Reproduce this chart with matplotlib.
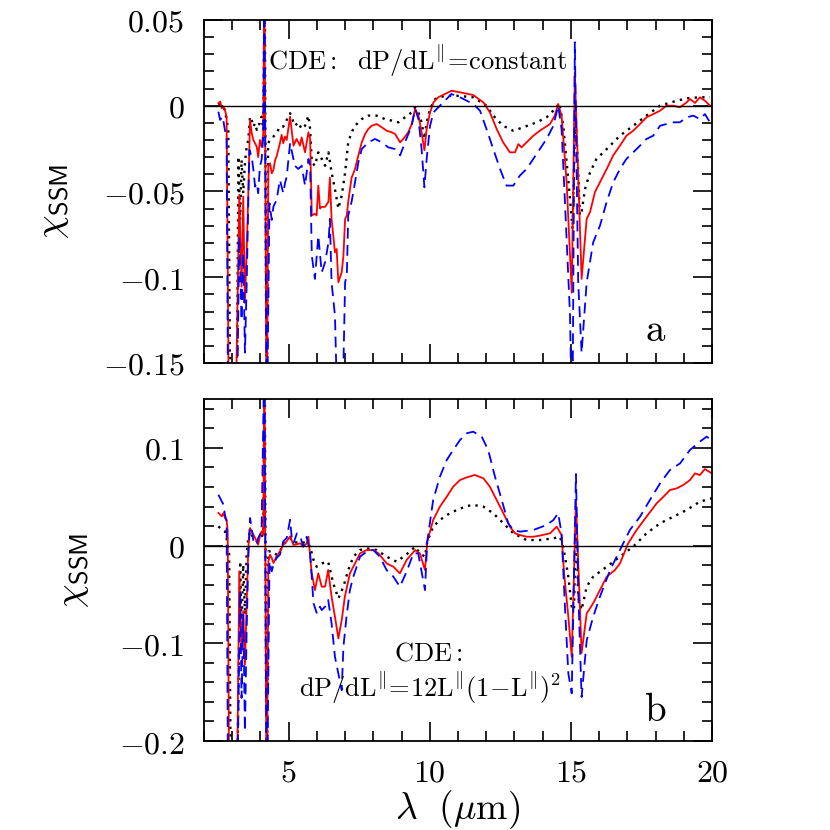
import matplotlib
matplotlib.use('Agg')
import matplotlib.pyplot as plt
from matplotlib.ticker import MultipleLocator, FuncFormatter

plt.rcParams['mathtext.fontset'] = 'cm'
plt.rcParams['font.family'] = 'serif'

# ---------------- panel a: dP/dL = constant ----------------
xa_red = [2.51, 2.57, 2.63, 2.69, 2.74, 2.80, 2.89, 3.0, 3.1, 3.25, 3.33, 3.39, 3.45, 3.51, 3.57,
          3.63, 3.69, 3.75, 3.81, 3.87, 3.92, 3.98, 4.04, 4.10, 4.14, 4.22, 4.28, 4.34, 4.40, 4.46,
          4.52, 4.57, 4.63, 4.69, 4.75, 4.81, 4.87, 4.93, 5.05, 5.17, 5.28, 5.40, 5.46, 5.58, 5.70,
          5.76, 5.82, 5.93, 5.99, 6.05, 6.11, 6.17, 6.29, 6.41, 6.46, 6.52, 6.64, 6.70, 6.76, 6.88,
          6.94, 7.00, 7.06, 7.11, 7.23, 7.35, 7.47, 7.59, 7.71, 7.82, 7.94, 8.12, 8.30, 8.47, 8.65,
          8.77, 8.95, 9.06, 9.24, 9.36, 9.48, 9.60, 9.71, 9.81, 9.89, 10.01, 10.13, 10.30, 10.77,
          11.07, 11.54, 11.90, 12.13, 12.37, 12.60, 12.84, 13.02, 13.14, 13.25, 13.43, 13.67, 13.90,
          14.26, 14.43, 14.55, 14.67, 14.85, 15.03, 15.14, 15.38, 15.56, 15.68, 15.85, 16.03, 16.27,
          16.50, 16.74, 16.97, 17.21, 17.45, 17.68, 17.92, 18.16, 18.39, 18.63, 18.86, 19.10, 19.22,
          19.40, 19.57, 19.75, 19.93]
ya_red = [0.0014, 0.0024, -0.0015, -0.0005, -0.0025, -0.0064, -0.2, -0.2, -0.2, -0.052, -0.1055,
          -0.053, -0.115, -0.086, -0.051, -0.0083, -0.016, -0.020, -0.022, -0.024, -0.030, -0.020,
          -0.024, -0.016, 0.08, -0.2, -0.0355, -0.0336, -0.0394, -0.0375, -0.0316, -0.0297, -0.0258,
          -0.0219, -0.017, -0.0219, -0.018, -0.020, -0.0064, -0.0233, -0.0194, -0.0233, -0.0185,
          -0.0272, -0.0155, -0.0194, -0.064, -0.063, -0.064, -0.0466, -0.060, -0.059, -0.059, -0.056,
          -0.042, -0.066, -0.0855, -0.0836, -0.103, -0.097, -0.0875, -0.066, -0.064, -0.056, -0.042,
          -0.037, -0.029, -0.0214, -0.0165, -0.0136, -0.0117, -0.0107, -0.0126, -0.0146, -0.0155,
          -0.0165, -0.0214, -0.0194, -0.0155, -0.0107, -0.0019, -0.0058, -0.0155, -0.026, -0.0136,
          -0.0039, 0.0019, 0.0049, 0.0087, 0.0078, 0.0062, 0.0019, -0.0039, -0.0136, -0.0214, -0.0272,
          -0.0272, -0.0224, -0.0243, -0.0214, -0.0175, -0.0146, -0.0107, -0.0058, 0.001, -0.0058,
          -0.0447, -0.109, 0.0194, -0.101, -0.066, -0.062, -0.0505, -0.0447, -0.0369, -0.029, -0.0233,
          -0.0175, -0.0146, -0.0107, -0.0068, -0.0049, -0.0029, 0.0, 0.0, -0.001, 0.0019, 0.0039,
          0.0016, 0.0049, 0.0029, 0.0]

xa_blk = [2.51, 2.63, 2.74, 2.80, 2.86, 2.94, 3.05, 3.15, 3.22, 3.28, 3.33, 3.39, 3.45, 3.51, 3.57,
          3.63, 3.69, 3.75, 3.81, 3.87, 3.92, 3.98, 4.04, 4.10, 4.15, 4.22, 4.27, 4.34, 4.46, 4.57,
          4.69, 4.81, 4.93, 5.05, 5.22, 5.34, 5.46, 5.58, 5.70, 5.76, 5.82, 5.93, 6.05, 6.17, 6.29,
          6.41, 6.52, 6.64, 6.76, 6.88, 7.00, 7.11, 7.23, 7.35, 7.59, 7.82, 8.12, 8.41, 8.65, 8.89,
          9.12, 9.36, 9.48, 9.60, 9.71, 9.81, 9.89, 10.01, 10.19, 10.54, 10.95, 11.54, 12.01, 12.25,
          12.60, 12.96, 13.31, 13.79, 14.14, 14.49, 14.59, 14.73, 14.85, 14.97, 15.06, 15.16, 15.26,
          15.32, 15.38, 15.50, 15.68, 15.91, 16.27, 16.74, 17.21, 17.68, 18.16, 18.63, 19.10, 19.57,
          19.93]
ya_blk = [0.0014, 0.0004, -0.0025, -0.0083, -0.014, -0.2, -0.2, -0.2, -0.0297, -0.0666, -0.0316,
          -0.051, -0.0336, -0.0239, -0.020, -0.0064, -0.0083, -0.0122, -0.0103, -0.0141, -0.0112,
          -0.0103, -0.0064, -0.0141, 0.08, -0.2, -0.0219, -0.020, -0.018, -0.0161, -0.0122, -0.0122,
          -0.0083, -0.0044, -0.0117, -0.0097, -0.0136, -0.0117, -0.0058, -0.0136, -0.033, -0.035,
          -0.0272, -0.031, -0.035, -0.0272, -0.0389, -0.0486, -0.060, -0.0525, -0.0389, -0.0214,
          -0.0155, -0.0117, -0.0078, -0.0058, -0.0058, -0.0078, -0.0087, -0.0097, -0.0068, -0.0039,
          -0.001, -0.0039, -0.0097, -0.0194, -0.0097, -0.0019, 0.0039, 0.0058, 0.0058, 0.0049, 0.0,
          -0.0058, -0.0117, -0.0146, -0.0126, -0.0097, -0.0068, -0.001, 0.0016, -0.0117, -0.033,
          -0.0544, -0.072, -0.0019, -0.0389, -0.064, -0.062, -0.0486, -0.0389, -0.031, -0.0253,
          -0.0175, -0.0117, -0.0058, 0.0, 0.0023, 0.0043, 0.0049, 0.0049]

xa_blu = [2.51, 2.57, 2.66, 2.74, 2.80, 2.86, 3.0, 3.15, 3.25, 3.33, 3.39, 3.45, 3.51, 3.57, 3.61,
          3.69, 3.75, 3.81, 3.87, 3.92, 3.98, 4.04, 4.10, 4.14, 4.22, 4.32, 4.40, 4.46, 4.57, 4.69,
          4.75, 4.81, 4.87, 4.93, 5.05, 5.22, 5.34, 5.46, 5.58, 5.70, 5.76, 5.82, 5.93, 6.05, 6.17,
          6.29, 6.41, 6.46, 6.52, 6.64, 6.76, 6.88, 7.00, 7.06, 7.11, 7.23, 7.35, 7.47, 7.59, 7.82,
          8.06, 8.30, 8.53, 8.77, 8.95, 9.12, 9.36, 9.48, 9.60, 9.71, 9.81, 9.89, 10.01, 10.13, 10.30,
          10.77, 11.07, 11.54, 11.78, 12.01, 12.25, 12.49, 12.72, 12.96, 13.19, 13.43, 13.67, 13.90,
          14.14, 14.38, 14.55, 14.67, 14.79, 14.97, 15.05, 15.14, 15.26, 15.38, 15.56, 15.79, 16.03,
          16.27, 16.50, 16.74, 16.97, 17.21, 17.45, 17.68, 17.92, 18.16, 18.39, 18.63, 18.86, 19.10,
          19.34, 19.57, 19.75, 19.93]
ya_blu = [-0.0035, -0.0083, -0.0064, -0.0141, -0.020, -0.2, -0.2, -0.2, -0.0763, -0.125, -0.086,
          -0.144, -0.1055, -0.055, -0.0258, -0.0297, -0.0375, -0.0472, -0.0452, -0.051, -0.0355,
          -0.0316, -0.018, 0.08, -0.2, -0.0569, -0.0666, -0.0588, -0.055, -0.0433, -0.0472, -0.051,
          -0.0452, -0.0414, -0.0219, -0.035, -0.0369, -0.035, -0.0466, -0.0311, -0.035, -0.0875,
          -0.101, -0.0758, -0.0972, -0.0914, -0.0797, -0.066, -0.103, -0.1224, -0.2, -0.2, -0.103,
          -0.099, -0.064, -0.056, -0.0447, -0.033, -0.0253, -0.0214, -0.0194, -0.0214, -0.0243,
          -0.0253, -0.029, -0.0214, -0.0117, -0.0019, -0.0078, -0.0253, -0.0476, -0.031, -0.0117,
          -0.0039, -0.001, 0.0068, 0.0049, 0.001, -0.0029, -0.0136, -0.0253, -0.0369, -0.0466,
          -0.0466, -0.0408, -0.0369, -0.031, -0.0253, -0.0194, -0.0117, 0.0, -0.0136, -0.056,
          -0.1224, -0.2, 0.037, -0.103, -0.144, -0.103, -0.0797, -0.070, -0.056, -0.0447, -0.0369,
          -0.031, -0.0272, -0.0233, -0.0194, -0.0175, -0.0117, -0.0107, -0.0097, -0.0097, -0.0068,
          -0.0058, -0.0078, -0.0049, -0.0097]

# ---------------- panel b: dP/dL = 12L(1-L)^2 ----------------
xb_red = [2.51, 2.57, 2.63, 2.69, 2.74, 2.80, 2.84, 2.90, 3.0, 3.15, 3.25, 3.33, 3.39, 3.45, 3.51,
          3.57, 3.63, 3.69, 3.75, 3.87, 3.92, 3.98, 4.04, 4.10, 4.14, 4.22, 4.28, 4.34, 4.40, 4.46,
          4.57, 4.69, 4.81, 4.93, 5.05, 5.17, 5.41, 5.52, 5.64, 5.70, 5.81, 5.93, 6.05, 6.17, 6.29,
          6.40, 6.52, 6.64, 6.76, 6.88, 6.99, 7.17, 7.35, 7.53, 7.76, 8.00, 8.18, 8.47, 8.71, 8.94,
          9.18, 9.48, 9.65, 9.83, 9.91, 10.12, 10.36, 10.60, 10.83, 11.07, 11.31, 11.60, 11.90, 12.13,
          12.37, 12.61, 12.84, 13.02, 13.20, 13.43, 13.67, 13.90, 14.26, 14.50, 14.67, 14.76, 14.91,
          15.03, 15.18, 15.38, 15.56, 15.79, 16.03, 16.27, 16.56, 16.74, 17.03, 17.33, 17.68, 18.04,
          18.28, 18.51, 18.75, 18.98, 19.22, 19.40, 19.57, 19.75, 19.99]
yb_red = [0.0334, 0.0317, 0.030, 0.0334, 0.0283, 0.0265, 0.0146, -0.3, -0.3, -0.3, -0.0263, -0.108,
          -0.067, -0.122, -0.0605, -0.0025, 0.018, 0.0146, 0.0112, 0.0044, 0.001, 0.0095, 0.0146,
          0.0112, 0.2, -0.3, -0.016, -0.0093, -0.0127, -0.0178, -0.011, -0.0059, 0.001, 0.0044,
          0.0095, 0.0006, 0.0023, -0.001, 0.0023, 0.009, -0.0267, -0.0455, -0.0284, -0.042, -0.042,
          -0.025, -0.0523, -0.0728, -0.095, -0.0762, -0.0523, -0.0284, -0.0182, -0.0079, -0.0045,
          -0.0045, -0.0079, -0.0182, -0.0216, -0.0284, -0.0147, -0.0045, -0.0079, -0.025, 0.004,
          0.0262, 0.0399, 0.050, 0.0603, 0.0671, 0.0699, 0.0723, 0.0689, 0.0603, 0.0467, 0.033,
          0.0194, 0.0126, 0.0108, 0.0091, 0.0091, 0.0102, 0.0126, 0.0194, 0.0108, -0.0284, -0.0728,
          -0.1137, 0.0467, -0.110, -0.0695, -0.059, -0.0455, -0.0318, -0.025, -0.0182, 0.0023, 0.016,
          0.0296, 0.0433, 0.050, 0.0569, 0.0586, 0.062, 0.0671, 0.074, 0.0722, 0.0784, 0.074]

xb_blk = [2.51, 2.63, 2.74, 2.80, 2.89, 2.96, 3.05, 3.15, 3.28, 3.33, 3.39, 3.45, 3.51, 3.57, 3.63,
          3.75, 3.87, 3.98, 4.10, 4.15, 4.22, 4.28, 4.40, 4.57, 4.69, 4.81, 5.05, 5.17, 5.41, 5.64,
          5.76, 5.88, 5.99, 6.17, 6.40, 6.58, 6.76, 6.94, 7.11, 7.29, 7.53, 7.76, 8.12, 8.47, 8.83,
          9.06, 9.30, 9.48, 9.65, 9.83, 9.91, 10.12, 10.36, 10.60, 10.95, 11.31, 11.54, 11.90, 12.25,
          12.61, 12.96, 13.43, 13.90, 14.38, 14.61, 14.73, 14.91, 15.03, 15.11, 15.18, 15.26, 15.38,
          15.56, 15.79, 16.27, 16.74, 17.21, 17.68, 18.16, 18.63, 19.10, 19.57, 19.99]
yb_blk = [0.0197, 0.0163, 0.0146, 0.0078, -0.009, -0.3, -0.3, -0.3, -0.016, -0.0878, -0.0195,
          -0.0707, -0.0093, 0.0078, 0.0146, 0.0078, 0.0044, 0.0078, 0.0112, 0.2, -0.3, -0.0059,
          -0.0059, -0.0093, -0.0059, 0.001, 0.0078, 0.004, 0.0023, 0.004, -0.001, -0.0147, -0.0216,
          -0.0182, -0.0165, -0.0386, -0.054, -0.042, -0.025, -0.0113, -0.0045, -0.0028, -0.0045,
          -0.0113, -0.0165, -0.0113, -0.0062, -0.001, -0.0079, -0.0113, 0.004, 0.0194, 0.0262,
          0.0313, 0.0364, 0.0405, 0.0416, 0.0399, 0.033, 0.0228, 0.0126, 0.0057, 0.0057, 0.0074,
          0.0091, -0.001, -0.0318, -0.0625, -0.0659, 0.0296, -0.0523, -0.0659, -0.042, -0.0318,
          -0.0216, -0.0113, -0.001, 0.0126, 0.0228, 0.0296, 0.0364, 0.045, 0.0484]

xb_blu = [2.51, 2.57, 2.69, 2.74, 2.80, 2.86, 3.0, 3.15, 3.28, 3.33, 3.39, 3.45, 3.51, 3.57, 3.63,
          3.69, 3.75, 3.87, 3.92, 3.98, 4.04, 4.14, 4.22, 4.32, 4.40, 4.46, 4.57, 4.69, 4.81, 4.93,
          5.05, 5.11, 5.17, 5.29, 5.41, 5.52, 5.64, 5.76, 5.88, 6.00, 6.11, 6.17, 6.29, 6.40, 6.52,
          6.64, 6.76, 6.88, 6.94, 7.05, 7.17, 7.29, 7.53, 7.76, 8.00, 8.23, 8.47, 8.71, 8.94, 9.18,
          9.42, 9.59, 9.83, 9.91, 10.12, 10.36, 10.60, 10.83, 11.07, 11.31, 11.54, 11.84, 12.07,
          12.31, 12.55, 12.78, 12.96, 13.20, 13.67, 14.14, 14.38, 14.55, 14.67, 14.79, 14.91, 15.03,
          15.18, 15.26, 15.38, 15.56, 15.79, 16.03, 16.39, 16.74, 17.09, 17.45, 17.80, 18.16, 18.51,
          18.87, 19.22, 19.57, 19.81, 19.99]
yb_blu = [0.052, 0.0487, 0.0419, 0.0317, 0.0248, -0.3, -0.3, -0.3, -0.0468, -0.156, -0.0707,
          -0.19, -0.0878, -0.0127, 0.0283, 0.018, 0.0044, 0.001, 0.0078, 0.0112, 0.0163, 0.2, -0.3,
          -0.016, -0.0263, -0.0195, -0.0127, -0.0093, 0.0044, 0.0078, 0.0265, 0.0078, 0.0023,
          0.0125, 0.0091, -0.001, 0.0091, -0.0079, -0.059, -0.0695, -0.0625, -0.066, -0.0625,
          -0.0556, -0.0795, -0.1137, -0.131, -0.148, -0.1035, -0.0726, -0.0455, -0.0318, -0.0113,
          -0.0062, -0.0045, -0.0113, -0.025, -0.0318, -0.042, -0.0267, -0.0079, -0.0079, -0.0455,
          0.004, 0.0467, 0.0706, 0.0876, 0.0979, 0.108, 0.115, 0.1166, 0.1115, 0.0979, 0.0706,
          0.0467, 0.0228, 0.016, 0.0143, 0.016, 0.0211, 0.0262, 0.0331, 0.0125, -0.0625, -0.131,
          -0.1512, 0.0733, -0.0455, -0.155, -0.097, -0.0728, -0.0523, -0.025, -0.0045, 0.016,
          0.0296, 0.0467, 0.0637, 0.0774, 0.0842, 0.0979, 0.1064, 0.1115, 0.1081]


def fmt(v, pos):
    if abs(v) < 1e-9:
        return r'$0$'
    return r'$%g$' % v


def style_axes(ax, ymaj, ymin):
    ax.set_xlim(2, 20)
    ax.xaxis.set_major_locator(MultipleLocator(5))
    ax.xaxis.set_minor_locator(MultipleLocator(1))
    ax.yaxis.set_major_locator(MultipleLocator(ymaj))
    ax.yaxis.set_minor_locator(MultipleLocator(ymin))
    ax.yaxis.set_major_formatter(FuncFormatter(fmt))
    ax.xaxis.set_major_formatter(FuncFormatter(fmt))
    ax.tick_params(which='both', direction='in', top=True, right=True, width=1.2)
    ax.tick_params(which='major', length=14, labelsize=23)
    ax.tick_params(which='minor', length=7)
    ax.tick_params(axis='y', pad=14)
    ax.tick_params(axis='x', pad=12)
    for s in ax.spines.values():
        s.set_linewidth(1.3)
    ax.axhline(0, color='black', lw=1.0)


def draw(ax, xk, yk, xr, yr, xb, yb):
    ax.plot(xk, yk, color='black', lw=1.7, dashes=(1, 2.2))
    ax.plot(xr, yr, color='red', lw=1.3)
    ax.plot(xb, yb, color='blue', lw=1.3, dashes=(6, 3.5))


fig = plt.figure(figsize=(8.3, 8.3), dpi=100)
ax1 = fig.add_axes([0.2458, 0.5627, 0.612, 0.4133])
ax2 = fig.add_axes([0.2458, 0.1072, 0.612, 0.412])

# top panel
draw(ax1, xa_blk, ya_blk, xa_red, ya_red, xa_blu, ya_blu)
style_axes(ax1, 0.05, 0.01)
ax1.set_ylim(-0.15, 0.05)
ax1.tick_params(axis='x', labelbottom=False)
ax1.text(0.42, 0.878, r'$\mathrm{CDE{:}\ \ dP/dL^{\Vert}\!=\!constant}$', transform=ax1.transAxes,
         ha='center', va='center', fontsize=19)
ax1.text(0.888, 0.096, r'$\mathrm{a}$', transform=ax1.transAxes, ha='center', va='center', fontsize=28)
ax1.text(-0.298, 0.47, r'$\chi_{\mathsf{SSM}}$', transform=ax1.transAxes, rotation=90,
         ha='center', va='center', fontsize=27)

# bottom panel
draw(ax2, xb_blk, yb_blk, xb_red, yb_red, xb_blu, yb_blu)
style_axes(ax2, 0.1, 0.02)
ax2.set_ylim(-0.2, 0.15)
ax2.text(0.441, 0.257, r'$\mathrm{CDE{:}}$', transform=ax2.transAxes, ha='center', va='center', fontsize=19)
ax2.text(0.445, 0.155, r'$\mathrm{dP/dL^{\Vert}\!=\!12L^{\Vert}(1\!-\!L^{\Vert})^2}$', transform=ax2.transAxes,
         ha='center', va='center', fontsize=19)
ax2.text(0.888, 0.09, r'$\mathrm{b}$', transform=ax2.transAxes, ha='center', va='center', fontsize=28)
ax2.text(-0.258, 0.5, r'$\chi_{\mathsf{SSM}}$', transform=ax2.transAxes, rotation=90,
         ha='center', va='center', fontsize=27)
ax2.text(0.5, -0.2, r'$\lambda\ \ (\mu\mathrm{m})$', transform=ax2.transAxes,
         ha='center', va='center', fontsize=27)

fig.savefig('out.png', dpi=100)
